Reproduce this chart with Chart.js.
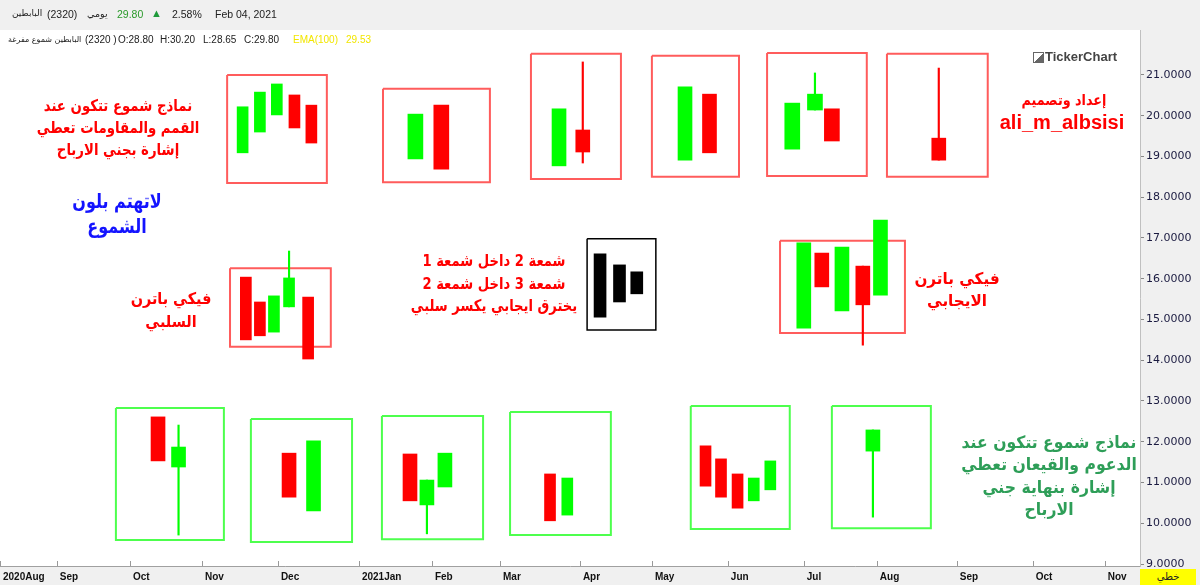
<!DOCTYPE html>
<html><head><meta charset="utf-8">
<script src="https://cdn.jsdelivr.net/npm/chart.js@4.4.1/dist/chart.umd.min.js"></script>
<style>
html,body{margin:0;padding:0;background:#f0f0f0;}
#wrap{position:relative;width:1200px;height:585px;overflow:hidden;}
canvas{position:absolute;left:0;top:0;}
.t{position:absolute;white-space:nowrap;}
.lat{font-family:"Liberation Sans",Arial,sans-serif;}
.arh{font-family:"DejaVu Sans",sans-serif;}
.blk{position:absolute;white-space:nowrap;font-family:"DejaVu Sans",sans-serif;font-weight:bold;direction:rtl;text-align:center;}
</style>
</head><body>
<div id="wrap">
<canvas id="c" width="1200" height="585"></canvas>

<!-- header row 1 -->
<div class="t arh" style="left:12px;top:8px;font-size:9px;color:#222;" dir="rtl">البابطين</div>
<div class="t lat" style="left:47px;top:8px;font-size:10.5px;color:#222;">(2320)</div>
<div class="t arh" style="left:87px;top:8px;font-size:9.5px;color:#222;" dir="rtl">يومي</div>
<div class="t lat" style="left:117px;top:8px;font-size:10.5px;color:#2a9a2a;">29.80</div>
<div class="t lat" style="left:151px;top:7px;font-size:11px;color:#1e9a3a;">▲</div>
<div class="t lat" style="left:172px;top:8px;font-size:10.5px;color:#222;">2.58%</div>
<div class="t lat" style="left:215px;top:8px;font-size:10.5px;color:#222;">Feb 04, 2021</div>

<!-- header row 2 -->
<div class="t arh" style="left:8px;top:35px;font-size:8px;color:#222;" dir="rtl">البابطين شموع مفرغة</div>
<div class="t lat" style="left:85px;top:34px;font-size:10px;color:#222;">(2320 )</div>
<div class="t lat" style="left:118px;top:34px;font-size:10px;color:#222;">O:28.80</div>
<div class="t lat" style="left:160px;top:34px;font-size:10px;color:#222;">H:30.20</div>
<div class="t lat" style="left:203px;top:34px;font-size:10px;color:#222;">L:28.65</div>
<div class="t lat" style="left:244px;top:34px;font-size:10px;color:#222;">C:29.80</div>
<div class="t lat" style="left:293px;top:34px;font-size:10px;color:#f2e600;">EMA(100)</div>
<div class="t lat" style="left:346px;top:34px;font-size:10px;color:#f2e600;">29.53</div>

<!-- logo -->
<div class="t" style="left:1033px;top:52px;width:9px;height:9px;border:1px solid #666;background:linear-gradient(135deg,#fff 50%,#666 50%);"></div>
<div class="t lat" style="left:1045px;top:49px;font-size:13px;font-weight:bold;color:#444;">TickerChart</div>

<!-- annotations -->
<div class="blk" style="left:118px;top:95px;font-size:16px;line-height:22px;color:#ff0000;transform:translateX(-50%) scaleX(0.83);">نماذج شموع تتكون عند<br>القمم والمقاومات تعطي<br>إشارة بجني الارباح</div>
<div class="blk" style="left:117px;top:189px;font-size:20px;line-height:25px;color:#1414ff;transform:translateX(-50%) scaleX(0.8);">لاتهتم بلون<br>الشموع</div>
<div class="blk" style="left:171px;top:287px;font-size:16px;line-height:23px;color:#ff0000;transform:translateX(-50%) scaleX(0.9);">فيكي باترن<br>السلبي</div>
<div class="blk" style="left:494px;top:250px;font-size:16px;line-height:22.5px;color:#ff0000;transform:translateX(-50%) scaleX(0.82);">شمعة 2 داخل شمعة 1<br>شمعة 3 داخل شمعة 2<br>يخترق ايجابي يكسر سلبي</div>
<div class="blk" style="left:957px;top:268px;font-size:16px;line-height:22px;color:#ff0000;transform:translateX(-50%) scaleX(0.95);">فيكي باترن<br>الايجابي</div>
<div class="blk" style="left:1064px;top:91px;font-size:15px;line-height:18px;color:#ff0000;transform:translateX(-50%) scaleX(0.85);">إعداد وتصميم</div>
<div class="t lat" style="left:1062px;top:111px;transform:translateX(-50%);font-size:20px;font-weight:bold;color:#ff0000;">ali_m_albsisi</div>
<div class="blk" style="left:1049px;top:431px;font-size:17px;line-height:22.4px;color:#2e9e58;transform:translateX(-50%) scaleX(0.92);">نماذج شموع تتكون عند<br>الدعوم والقيعان تعطي<br>إشارة بنهاية جني<br>الارباح</div>

<!-- chart type box -->
<div class="t arh" style="left:1140px;top:569px;width:56px;height:16px;background:#ffff00;font-size:10px;line-height:16px;text-align:center;color:#222;" dir="rtl">خطي</div>
</div>

<script>
// ---------------- DATA ----------------
// x axis: trading-day index from start of Aug 2020
const monthTickDays = [0, 15.8, 36.1, 56.1, 77.2, 99.7, 120.0, 138.9, 161.1, 181.1, 202.2, 223.3, 243.6, 265.8, 286.9, 306.9];
const monthLabels = ['2020Aug','Sep','Oct','Nov','Dec','2021Jan','Feb','Mar','Apr','May','Jun','Jul','Aug','Sep','Oct','Nov'];
const priceTicks = [9, 10, 11, 12, 13, 14, 15, 16, 17, 18, 19, 20, 21];

// pattern frames (one per drawn pattern)
const boxStartDay = [63.1, 106.4, 147.5, 181.1, 213.1, 246.4, 63.9, 163.1, 216.7, 32.2, 69.7, 106.1, 141.7, 191.9, 231.1];
const boxEndDay   = [90.8, 136.1, 172.5, 205.3, 240.8, 274.4, 91.9, 182.2, 251.4, 62.2, 97.8, 134.2, 169.7, 219.4, 258.6];
const boxHigh     = [21.00, 20.66, 21.52, 21.47, 21.54, 21.52, 16.26, 16.98, 16.93, 12.83, 12.56, 12.63, 12.73, 12.88, 12.88];
const boxLow      = [18.35, 18.37, 18.45, 18.50, 18.52, 18.50, 14.33, 14.74, 14.67, 9.59, 9.54, 9.61, 9.71, 9.86, 9.88];

// candles
const candlePattern = [0,0,0,0,0, 1,1, 2,2, 3,3, 4,4,4, 5, 6,6,6,6,6, 7,7,7, 8,8,8,8,8, 9,9, 10,10, 11,11,11, 12,12, 13,13,13,13,13, 14];
const candleDay   = [67.4,72.2,76.9,81.8,86.5, 115.4,122.6, 155.3,161.9, 190.3,197.1, 220.1,226.4,231.1, 260.8, 68.3,72.2,76.1,80.3,85.6, 166.7,172.1,176.9, 223.3,228.3,233.9,239.7,244.6, 43.9,49.6, 80.3,87.1, 113.9,118.6,123.6, 152.8,157.6, 196.0,200.3,204.9,209.4,214.0, 242.5];
const candleOpen  = [19.09,19.60,20.02,20.51,20.26, 18.94,20.26, 18.77,19.65, 18.91,20.53, 19.18,20.14,20.17, 19.45, 16.04,15.43,14.69,15.31,15.55, 16.61,16.34,16.17, 14.79,16.63,15.21,16.31,15.60, 12.61,11.38, 11.72,10.30, 11.70,10.45,10.89, 11.21,10.20, 11.90,11.58,11.21,10.55,10.82, 11.77];
const candleClose = [20.22,20.58,20.78,19.70,19.33, 20.04,18.69, 20.17,19.11, 20.71,19.09, 20.31,20.53,19.38, 18.91, 14.50,14.60,15.58,16.02,14.03, 15.06,15.43,15.63, 16.88,15.80,16.78,15.36,17.44, 11.53,11.87, 10.64,12.02, 10.55,11.06,11.72, 10.06,11.11, 10.91,10.64,10.37,11.11,11.53, 12.29];
const candleHigh  = [20.22,20.58,20.78,20.51,20.26, 20.04,20.26, 20.17,21.32, 20.71,20.53, 20.31,21.05,20.17, 21.17, 16.04,15.43,15.58,16.68,15.55, 16.61,16.34,16.17, 16.88,16.63,16.78,16.31,17.44, 12.61,12.41, 11.72,12.02, 11.70,11.06,11.72, 11.21,11.11, 11.90,11.58,11.21,11.11,11.53, 12.29];
const candleLow   = [19.09,19.60,20.02,19.70,19.33, 18.94,18.69, 18.77,18.84, 18.91,19.09, 19.18,20.14,19.38, 18.91, 14.50,14.60,14.69,15.31,14.03, 15.06,15.43,15.63, 14.79,15.80,15.21,14.37,15.60, 11.53,9.71, 10.64,10.30, 10.55,9.74,10.89, 10.06,10.20, 10.91,10.64,10.37,10.55,10.82, 10.15];

// ---------------- STYLE ----------------
const bodyWidthByPattern = [11, 15, 14, 14, 15, 14, 11, 12, 14, 14, 14, 14, 11, 11, 14];
const frameColorByPattern = ['#ff5c5c','#ff5c5c','#ff5c5c','#ff5c5c','#ff5c5c','#ff5c5c','#ff5c5c','#000000','#ff5c5c','#4dff4d','#4dff4d','#4dff4d','#4dff4d','#4dff4d','#4dff4d'];
const monoPatterns = {7: '#000000'};
const UP = '#00ff00', DOWN = '#ff0000';

// ---------------- BUILD ----------------
const datasets = [];
boxStartDay.forEach((s, p) => {
  const idx = candlePattern.map((pp, i) => pp === p ? i : -1).filter(i => i >= 0);
  const col = i => monoPatterns[p] || (candleClose[i] >= candleOpen[i] ? UP : DOWN);
  datasets.push({
    type: 'bar', order: 0, grouped: false, barThickness: bodyWidthByPattern[p], borderWidth: 0,
    data: idx.map(i => ({x: candleDay[i], y: [candleOpen[i], candleClose[i]]})),
    backgroundColor: idx.map(col)
  });
  const widx = idx.filter(i => candleHigh[i] > Math.max(candleOpen[i], candleClose[i]) || candleLow[i] < Math.min(candleOpen[i], candleClose[i]));
  if (widx.length) datasets.push({
    type: 'bar', order: 1, grouped: false, barThickness: 1.5, borderWidth: 0,
    data: widx.map(i => ({x: candleDay[i], y: [candleLow[i], candleHigh[i]]})),
    backgroundColor: widx.map(col)
  });
  const e = boxEndDay[p], h = boxHigh[p], l = boxLow[p];
  datasets.push({
    type: 'line', order: 2, borderColor: frameColorByPattern[p], borderWidth: p === 7 ? 1.5 : 2,
    pointRadius: 0, fill: false, tension: 0, borderJoinStyle: 'miter',
    data: [{x: s, y: h}, {x: e, y: h}, {x: e, y: l}, {x: s, y: l}, {x: s, y: h}]
  });
});

const bgPlugin = {
  id: 'bg',
  beforeDraw(c) {
    const {ctx, chartArea: a} = c;
    ctx.save();
    ctx.fillStyle = '#f0f0f0';
    ctx.fillRect(0, 0, c.width, c.height);
    ctx.fillStyle = '#ffffff';
    ctx.fillRect(a.left, a.top, a.right - a.left, a.bottom - a.top);
    ctx.restore();
  },
  afterDraw(c) {
    const {ctx, chartArea: a} = c;
    const xs = c.scales.x;
    ctx.save();
    ctx.strokeStyle = '#999';
    ctx.lineWidth = 1;
    monthTickDays.forEach(v => {
      const px = Math.round(xs.getPixelForValue(v)) + 0.5;
      ctx.beginPath(); ctx.moveTo(px, a.bottom - 5); ctx.lineTo(px, a.bottom); ctx.stroke();
    });
    ctx.restore();
  }
};

new Chart(document.getElementById('c'), {
  type: 'bar',
  data: { datasets },
  plugins: [bgPlugin],
  options: {
    responsive: false, animation: false,
    layout: { padding: { top: 30, left: 0, right: 0, bottom: 0 } },
    plugins: { legend: { display: false }, tooltip: { enabled: false } },
    scales: {
      x: {
        type: 'linear', min: 0, max: 316.7, offset: false,
        afterBuildTicks: s => { s.ticks = monthTickDays.map(v => ({value: v})); },
        afterFit: s => { s.height = 19; },
        grid: { display: true, drawOnChartArea: false, drawTicks: true, tickLength: 5, tickColor: 'rgba(0,0,0,0)', offset: false },
        border: { display: true, color: '#a0a0a0' },
        ticks: { autoSkip: false, maxRotation: 0, minRotation: 0, align: 'start', labelOffset: 3, padding: 0,
          font: { family: 'Liberation Sans', size: 10, weight: 'bold' }, color: '#111',
          callback: (v, i) => monthLabels[i] }
      },
      y: {
        position: 'right', min: 8.951, max: 22.104,
        afterBuildTicks: s => { s.ticks = priceTicks.map(v => ({value: v})); },
        afterFit: s => { s.width = 60; },
        grid: { drawOnChartArea: false, drawTicks: true, tickLength: 4, color: '#888' },
        border: { display: true, color: '#c0c0c0' },
        ticks: { padding: 2, font: { family: 'DejaVu Sans', size: 11 }, color: '#1a1a40',
          callback: v => Number(v).toFixed(4) }
      }
    }
  }
});
</script>
</body></html>
